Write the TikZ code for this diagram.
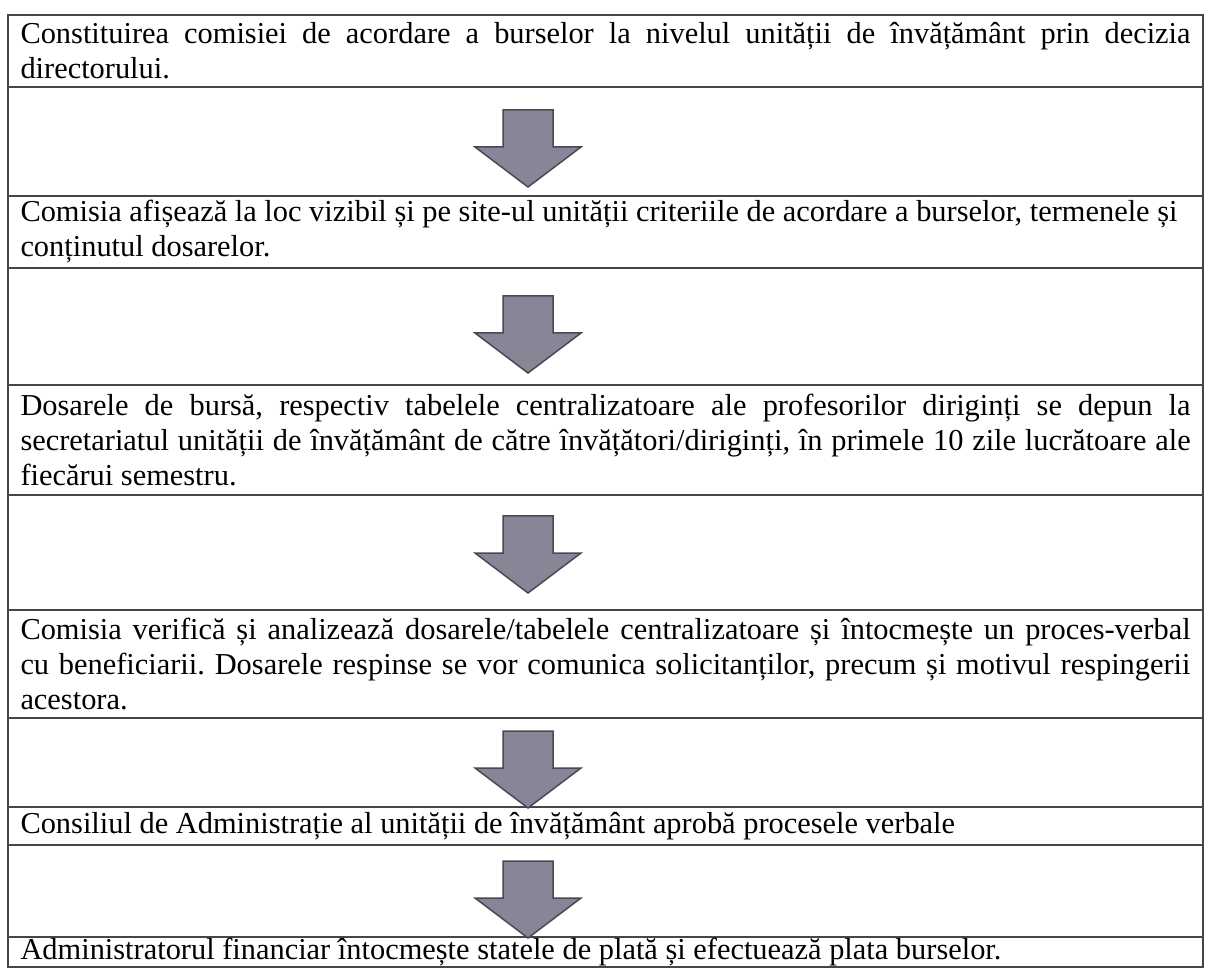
\documentclass[tikz,border=0pt]{standalone}
\usepackage{fontspec}
\setmainfont{Liberation Serif}
\frenchspacing
\usetikzlibrary{positioning}
\definecolor{rule}{RGB}{70,70,70}
\definecolor{arrowfill}{RGB}{134,134,150}
\definecolor{arrowedge}{RGB}{72,72,86}

\begin{document}
\begin{tikzpicture}[x=1pt,y=-1pt,
  stage/.style={draw=rule,line width=1.6pt,outer sep=0pt,anchor=north west,
    minimum width=1195pt,text width=1170pt,inner xsep=12.5pt,inner ysep=0pt,
    align=justify,font=\fontsize{30.4}{35}\selectfont},
  gap/.style={draw=rule,line width=1.6pt,outer sep=0pt,minimum width=1195pt,inner sep=0pt},
  pointer/.style={draw=arrowedge,line width=1.5pt,fill=arrowfill,line join=miter}]
  \useasboundingbox (0,0) rectangle (1211,973);
  % table rows
  \node[stage,minimum height=72pt] (decision) at (8,15) {Constituirea comisiei de acordare a burselor la nivelul unității de învățământ prin decizia\linebreak directorului.};
  \node[gap,minimum height=109pt,below=0pt of decision] (gapA) {};
  \node[stage,minimum height=72pt,below=0pt of gapA] (publish) {Comisia afișează la loc vizibil și pe site-ul unității criteriile de acordare a burselor, termenele și\\ conținutul dosarelor.};
  \node[gap,minimum height=117pt,below=0pt of publish] (gapB) {};
  \node[stage,minimum height=110pt,below=0pt of gapB] (submit) {Dosarele de bursă, respectiv tabelele centralizatoare ale profesorilor diriginți se depun la\linebreak secretariatul unității de învățământ de către învățători/diriginți, în primele 10 zile lucrătoare ale\linebreak fiecărui semestru.};
  \node[gap,minimum height=115pt,below=0pt of submit] (gapC) {};
  \node[stage,minimum height=108pt,below=0pt of gapC] (verify) {Comisia verifică și analizează dosarele/tabelele centralizatoare și întocmește un proces-verbal\linebreak cu beneficiarii. Dosarele respinse se vor comunica solicitanților, precum și motivul respingerii\linebreak acestora.};
  \node[gap,minimum height=89pt,below=0pt of verify] (gapD) {};
  \node[stage,minimum height=38pt,below=0pt of gapD] (approve) {Consiliul de Administrație al unității de învățământ aprobă procesele verbale};
  \node[gap,minimum height=92pt,below=0pt of approve] (gapE) {};
  \node[stage,minimum height=30pt,below=0pt of gapE] (payment) {Administratorul financiar întocmește statele de plată și efectuează plata burselor.};
  % block arrows, tip near the lower rule of each gap
  \coordinate (axis) at (528,0);
  \draw[pointer] ([yshift=9pt]axis |- gapA.south) -- ++(-53,-40) -- ++(28,0) -- ++(0,-37) -- ++(50,0) -- ++(0,37) -- ++(28,0) -- cycle;
  \draw[pointer] ([yshift=12pt]axis |- gapB.south) -- ++(-53,-40) -- ++(28,0) -- ++(0,-37) -- ++(50,0) -- ++(0,37) -- ++(28,0) -- cycle;
  \draw[pointer] ([yshift=17pt]axis |- gapC.south) -- ++(-53,-40) -- ++(28,0) -- ++(0,-37) -- ++(50,0) -- ++(0,37) -- ++(28,0) -- cycle;
  \draw[pointer] ([yshift=-1pt]axis |- gapD.south) -- ++(-53,-40) -- ++(28,0) -- ++(0,-37) -- ++(50,0) -- ++(0,37) -- ++(28,0) -- cycle;
  \draw[pointer] ([yshift=-1pt]axis |- gapE.south) -- ++(-53,-40) -- ++(28,0) -- ++(0,-37) -- ++(50,0) -- ++(0,37) -- ++(28,0) -- cycle;
\end{tikzpicture}
\end{document}
